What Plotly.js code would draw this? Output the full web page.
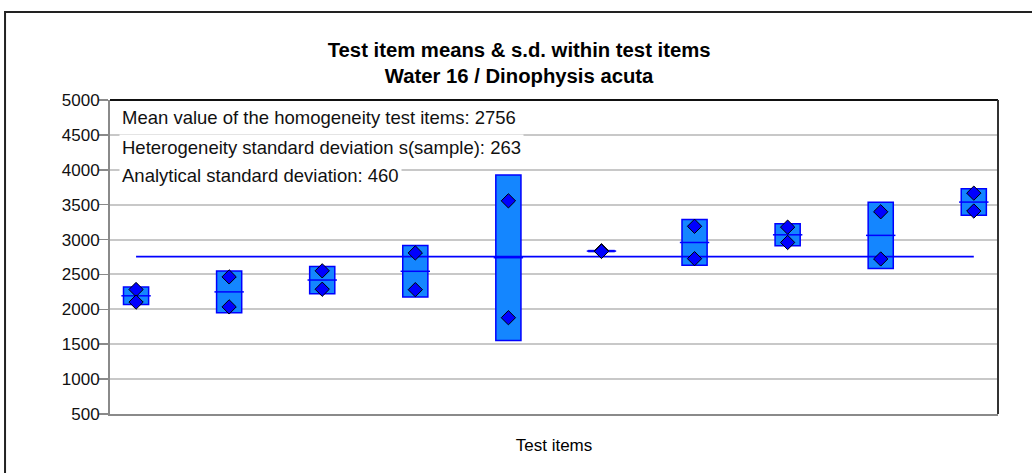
<!DOCTYPE html>
<html>
<head>
<meta charset="utf-8">
<script src="https://cdn.plot.ly/plotly-3.0.1.min.js"></script>
<style>html,body{margin:0;padding:0;background:#fff;}#chart{width:1032px;height:473px;}</style>
</head>
<body>
<div id="chart"></div>
<script>
// Test items (categories, drawn without labels)
const itemNo = [1, 2, 3, 4, 5, 6, 7, 8, 9, 10];
// Replicate results per test item
const rep1 = [2284, 2465, 2552, 2808, 3555, 2840, 3190, 3178, 3398, 3665];
const rep2 = [2104, 2035, 2288, 2282, 1880, 2830, 2726, 2958, 2722, 3409];
// Test item means and s.d. within test items
const itemMean = [2194, 2250, 2420, 2545, 2740, 2835, 2958, 3068, 3060, 3537];
const itemSD = [125, 300, 195, 370, 1185, 7, 328, 157, 475, 190];
// Overall statistics
const grandMean = 2756;
const sSample = 263;
const sAnalytical = 460;
const yTicks = [500, 1000, 1500, 2000, 2500, 3000, 3500, 4000, 4500, 5000];

const FONT = '"Liberation Sans", Arial, sans-serif';

const boxBase = itemMean.map((m, i) => m - itemSD[i]);
const boxLen = itemSD.map(s => 2 * s);

const traces = [
  {
    type: 'bar', x: itemNo, y: boxLen, base: boxBase, width: 0.27,
    marker: {color: '#1486FF', line: {color: '#0000FF', width: 1.5}},
    hoverinfo: 'skip', showlegend: false
  },
  {
    type: 'scatter', mode: 'markers', x: itemNo, y: itemMean,
    marker: {symbol: 'line-ew', size: 21, line: {color: '#0000FF', width: 1.5}},
    hoverinfo: 'skip', showlegend: false
  },
  {
    type: 'scatter', mode: 'lines', x: [itemNo[0], itemNo[itemNo.length - 1]], y: [grandMean, grandMean],
    line: {color: '#0000FF', width: 1.6},
    hoverinfo: 'skip', showlegend: false
  },
  {
    type: 'scatter', mode: 'markers', x: itemNo.concat(itemNo), y: rep1.concat(rep2),
    marker: {symbol: 'diamond', size: 11, color: '#0000FF', line: {color: '#000000', width: 1}},
    hoverinfo: 'skip', showlegend: false
  }
];

const annLines = [
  'Mean value of the homogeneity test items: ' + grandMean,
  'Heterogeneity standard deviation s(sample): ' + sSample,
  'Analytical standard deviation: ' + sAnalytical
];
const annY = [0.9427, 0.8503, 0.7611];

const layout = {
  width: 1032, height: 473,
  margin: {l: 110, r: 34, t: 100, b: 59},
  paper_bgcolor: '#ffffff', plot_bgcolor: '#ffffff',
  font: {family: FONT, size: 17, color: '#000'},
  title: {
    text: '<b>Test item means &amp; s.d. within test items</b><br><b>Water 16 / Dinophysis acuta</b>',
    font: {family: FONT, size: 20.3, color: '#000'},
    xref: 'container', x: 0.503, xanchor: 'center',
    yref: 'container', y: 0.88, yanchor: 'middle'
  },
  xaxis: {
    range: [0.72, 10.26], showgrid: false, zeroline: false,
    showticklabels: false, ticks: '',
    showline: true, linecolor: '#8a8a8a', linewidth: 2,
    title: {text: 'Test items', font: {family: FONT, size: 17, color: '#000'}, standoff: 24}
  },
  yaxis: {
    range: [500, 5000], tickvals: yTicks, ticktext: yTicks.map(String),
    showgrid: true, gridcolor: '#c8c8c8', gridwidth: 2,
    zeroline: false, showline: true, linecolor: '#8a8a8a', linewidth: 2,
    ticks: 'outside', ticklen: 9, tickcolor: '#8a8a8a', tickwidth: 1.5,
    ticklabelstandoff: -4,
    tickfont: {family: FONT, size: 17, color: '#111'}
  },
  bargap: 0,
  shapes: [
    {type: 'rect', xref: 'paper', yref: 'paper', x0: -0.1182, x1: 1.2, y0: -0.5, y1: 1.280,
     line: {color: '#222', width: 2}, layer: 'below'},
    {type: 'line', xref: 'paper', yref: 'paper', x0: 0, x1: 1, y0: 1, y1: 1,
     line: {color: '#111', width: 2}},
    {type: 'line', xref: 'paper', yref: 'paper', x0: 1, x1: 1, y0: 0, y1: 1,
     line: {color: '#333', width: 2}}
  ],
  annotations: annLines.map((t, i) => ({
    text: t, xref: 'paper', yref: 'paper', x: 0.0105, y: annY[i],
    xanchor: 'left', yanchor: 'middle', showarrow: false,
    bgcolor: '#ffffff', borderpad: 2,
    font: {family: FONT, size: 18.5, color: '#111'}
  }))
};

Plotly.newPlot('chart', traces, layout, {staticPlot: true, displayModeBar: false});
</script>
</body>
</html>
